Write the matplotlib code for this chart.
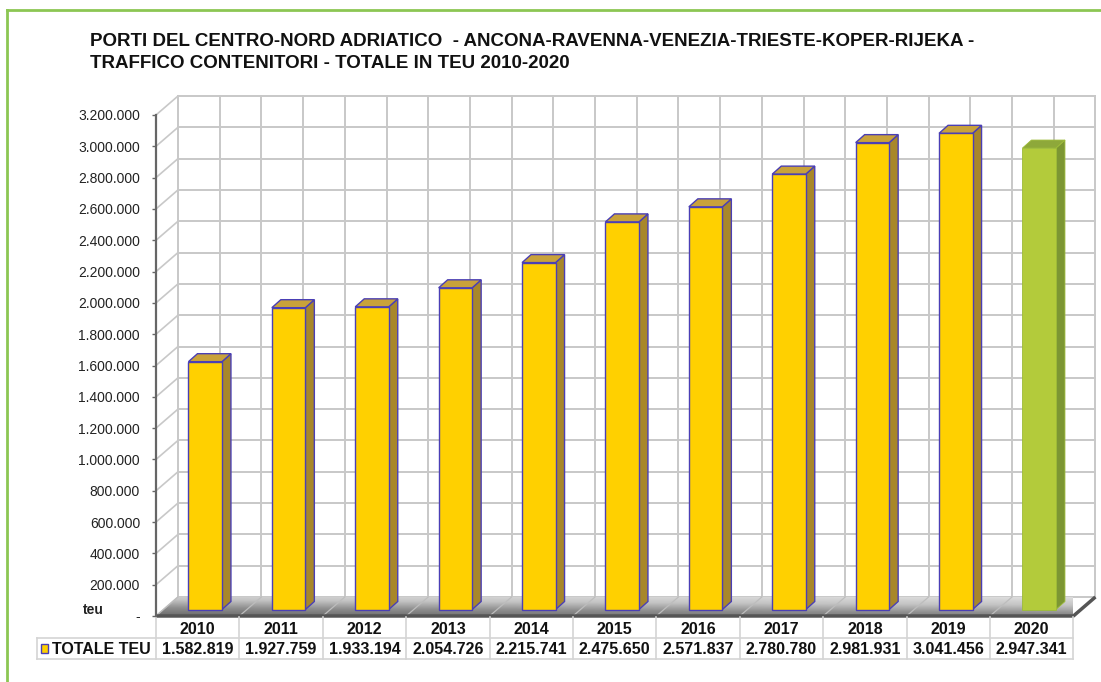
import numpy as np
import matplotlib.pyplot as plt
from matplotlib.patches import Polygon, Rectangle
from matplotlib.colors import LinearSegmentedColormap
from matplotlib.transforms import blended_transform_factory

plt.rcParams['font.family'] = ['Liberation Sans', 'DejaVu Sans']

# Data
years = ['2010', '2011', '2012', '2013', '2014', '2015',
         '2016', '2017', '2018', '2019', '2020']
teu = [1582819, 1927759, 1933194, 2054726, 2215741, 2475650,
       2571837, 2780780, 2981931, 3041456, 2947341]
series_name = 'TOTALE TEU'
y_ticks = list(range(0, 3200001, 200000))
y_ticklabels = ['-'] + [f'{v:,}'.replace(',', '.') for v in y_ticks[1:]]
value_labels = [f'{v:,}'.replace(',', '.') for v in teu]
title_lines = ['PORTI DEL CENTRO-NORD ADRIATICO  - ANCONA-RAVENNA-VENEZIA-TRIESTE-KOPER-RIJEKA -',
               'TRAFFICO CONTENITORI - TOTALE IN TEU 2010-2020']

# colours (face, side, top, edge)
yellow = ('#FFD000', '#A8872A', '#C9A23A', '#4A3FB5')
green = ('#B3CB3B', '#7C9633', '#8EA83A', '#9DBB38')
bar_styles = [yellow] * 10 + [green]

W, H = 1101, 682
fig = plt.figure(figsize=(W / 100, H / 100), dpi=100)

# axes: front plane, x=-0.5..10.5, y=0 at px 616
ax_left, ax_right, ax_bottom, ax_top = 156, 1073.4, 616, 96
px_y = 3200000 / 501.0
ymax = (ax_bottom - ax_top) * px_y
ax = fig.add_axes([ax_left / W, (H - ax_bottom) / H,
                   (ax_right - ax_left) / W, (ax_bottom - ax_top) / H])
n = len(years)
x = np.arange(n)
px_x = n / (ax_right - ax_left)

ddx, ddy = 22 * px_x, 19 * px_y        # wall depth
box, boy = 7.5 * px_x, 6.5 * px_y      # bar position in depth
bdx, bdy = 9 * px_x, 8 * px_y          # bar depth
bw = 33.5 * px_x

grid_c = '#c8c8c8'
# back wall grid
for v in y_ticks:
    ax.plot([-0.5 + ddx, n - 0.5 + ddx], [v + ddy, v + ddy], color=grid_c, lw=1.4,
            zorder=0.5, clip_on=False)
    ax.plot([-0.5, -0.5 + ddx], [v, v + ddy], color=grid_c, lw=1.2, zorder=0.5, clip_on=False)
for xv in np.arange(-0.5, n, 0.5):
    ax.plot([xv + ddx, xv + ddx], [ddy, 3200000 + ddy], color=grid_c, lw=1.4,
            zorder=0.5, clip_on=False)

# floor with gradient
floor = Polygon([(-0.5, 0), (n - 0.5, 0), (n - 0.5 + ddx, ddy), (-0.5 + ddx, ddy)],
                closed=True, facecolor='none', edgecolor='none', transform=ax.transData)
ax.add_patch(floor)
floor_cmap = LinearSegmentedColormap.from_list('floor', ['#6a6a6a', '#8e8e8e', '#c4c4c4', '#dedede'])
grad = np.linspace(0, 1, 50).reshape(-1, 1) * np.ones((1, 200))
grad = grad * 0.8 + np.linspace(0, 0.25, 200).reshape(1, -1)
im = ax.imshow(grad, extent=[-0.5, n - 0.5 + ddx, 0, ddy], origin='lower', aspect='auto',
               cmap=floor_cmap, vmin=0, vmax=1.05, zorder=1)
im.set_clip_path(floor)
for xv in np.arange(-0.5, n, 1.0):
    ax.plot([xv, xv + ddx], [0, ddy], color='#bdbdbd', lw=0.9, zorder=1.1, clip_on=False)
ax.plot([-0.5, n - 0.5, n - 0.5 + ddx], [0, 0, ddy], color='#555555', lw=2.5,
        zorder=1.2, clip_on=False, solid_capstyle='butt')

# bars
for i in range(n):
    face, side, top, edge = bar_styles[i]
    lw = 1.0 if edge != green[3] else 0.6
    xc = x[i] + box
    xl, xr = xc - bw / 2, xc + bw / 2
    t = teu[i] + boy
    ax.add_patch(Polygon([(xr, boy), (xr + bdx, boy + bdy), (xr + bdx, t + bdy), (xr, t)],
                         facecolor=side, edgecolor=edge, lw=lw, zorder=2 + i * 0.01))
    ax.add_patch(Polygon([(xl, t), (xr, t), (xr + bdx, t + bdy), (xl + bdx, t + bdy)],
                         facecolor=top, edgecolor=edge, lw=lw, zorder=2 + i * 0.01))
    ax.bar(xc, teu[i], width=bw, bottom=boy, color=face, edgecolor=edge, lw=lw,
           zorder=2.005 + i * 0.01)

ax.set_xlim(-0.5, n - 0.5)
ax.set_ylim(0, ymax)
ax.set_xticks([])
ax.set_yticks(y_ticks)
ax.set_yticklabels(y_ticklabels, fontsize=10, color='#222222')
ax.tick_params(axis='y', direction='out', length=3, width=1, color='#666666', pad=8.5)
for s in ['top', 'right', 'bottom']:
    ax.spines[s].set_visible(False)
ax.spines['left'].set_bounds(0, 3200000)
ax.spines['left'].set_color('#666666')
ax.spines['left'].set_linewidth(1.6)
ax.patch.set_visible(False)

# overlay in pixel coords for frame, table lines, texts
ov = fig.add_axes([0, 0, 1, 1], zorder=-1)
ov.set_xlim(0, W)
ov.set_ylim(H, 0)
ov.axis('off')
frame_c = '#8CC653'
ov.plot([7, 7], [H, 10], color=frame_c, lw=2)
ov.plot([7, W], [10, 10], color=frame_c, lw=2)

for k, line in enumerate(title_lines):
    fig.text(90 / W, 1 - (42 + 21 * k) / H, line, ha='left', va='center', fontsize=13.5,
             fontweight='bold', color='#111111')
fig.text(93 / W, 1 - 610 / H, 'teu', ha='center', va='center', fontsize=10,
         fontweight='bold', color='#222222')

# data table
tab_c = '#d4d4d4'
tr = blended_transform_factory(ax.transData, ov.transData)
row1, row2, row3 = 617, 638, 659
ov.plot([37, ax_right], [row2, row2], color=tab_c, lw=1.2)
ov.plot([37, ax_right], [row3, row3], color=tab_c, lw=1.2)
ov.plot([37, 37], [row2, row3], color=tab_c, lw=1.2)
for b in np.arange(-0.5, n, 1.0):
    ax.plot([b, b], [row1, row3], color=tab_c, lw=1.2, transform=tr, clip_on=False)
for i in range(n):
    ax.text(x[i], (row1 + row2) / 2 + 1.5, years[i], transform=tr, ha='center', va='center',
            fontsize=11.5, fontweight='bold', color='#111111')
    ax.text(x[i], (row2 + row3) / 2 + 1, value_labels[i], transform=tr, ha='center',
            va='center', fontsize=11.5, fontweight='bold', color='#111111')
ov.add_patch(Rectangle((41, 644), 7, 9, facecolor=yellow[0], edgecolor=yellow[3], lw=1))
ov.text(52, (row2 + row3) / 2 + 1, series_name, ha='left', va='center', fontsize=11.5,
        fontweight='bold', color='#111111')

fig.savefig('out.png', dpi=100)
